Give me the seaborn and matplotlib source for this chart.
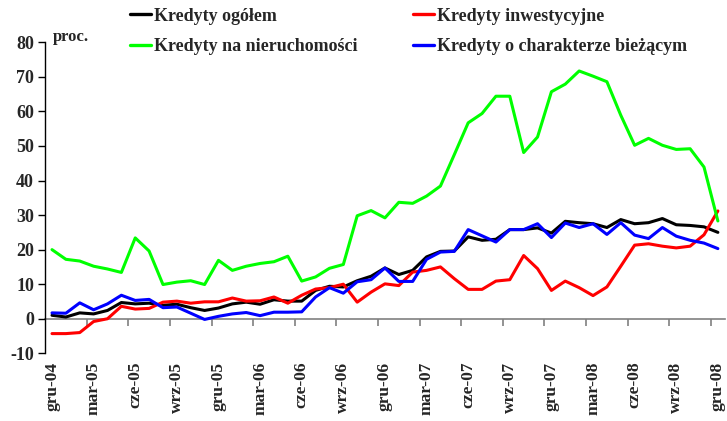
import numpy as np
import pandas as pd
import matplotlib
matplotlib.use("Agg")
import matplotlib.pyplot as plt
import seaborn as sns

# monthly data gru-04 .. gru-08, y/y change in %
ogolem = [1.0, 0.5, 1.7, 1.4, 2.4, 4.7, 4.3, 4.5, 3.9, 4.2, 3.2, 2.4, 3.1, 4.3, 4.8, 4.2,
          5.5, 5.1, 5.1, 8.2, 9.4, 9.2, 11.0, 12.3, 14.7, 12.8, 14.0, 17.9, 19.5, 19.6,
          23.7, 22.7, 23.0, 25.8, 25.8, 26.3, 24.8, 28.2, 27.8, 27.5, 26.4, 28.7, 27.5,
          27.8, 29.0, 27.2, 27.0, 26.6, 25.0]
inwestycyjne = [-4.3, -4.3, -4.0, -0.8, 0.0, 3.6, 2.8, 3.0, 4.8, 5.1, 4.5, 4.9, 4.9, 6.0,
                5.1, 5.2, 6.3, 4.5, 6.8, 8.6, 9.0, 10.0, 4.8, 7.7, 10.1, 9.6, 13.5, 14.0,
                15.0, 11.6, 8.5, 8.5, 10.9, 11.3, 18.3, 14.5, 8.2, 10.9, 9.0, 6.7, 9.2,
                15.2, 21.3, 21.7, 21.0, 20.5, 21.0, 24.3, 31.2]
nieruchomosci = [20.0, 17.2, 16.7, 15.2, 14.4, 13.4, 23.4, 19.6, 9.9, 10.6, 11.0, 9.9, 16.9,
                 14.0, 15.2, 16.0, 16.5, 18.1, 10.9, 12.1, 14.6, 15.7, 29.8, 31.3, 29.2,
                 33.7, 33.4, 35.5, 38.4, 47.5, 56.7, 59.4, 64.4, 64.4, 48.1, 52.6, 65.7,
                 67.9, 71.7, 70.2, 68.6, 58.9, 50.2, 52.2, 50.2, 49.0, 49.2, 43.9, 28.3]
biezace = [1.7, 1.6, 4.6, 2.6, 4.3, 6.8, 5.3, 5.6, 3.2, 3.4, 1.6, -0.2, 0.7, 1.4, 1.8, 0.9,
           1.9, 1.9, 2.0, 6.3, 9.0, 7.4, 10.7, 11.3, 14.7, 10.8, 10.8, 17.2, 19.3, 19.5,
           25.8, 24.0, 22.2, 25.8, 25.8, 27.5, 23.5, 27.7, 26.4, 27.5, 24.4, 27.8, 24.2,
           23.2, 26.4, 23.9, 22.7, 21.9, 20.3]

tick_labels = ["gru-04", "mar-05", "cze-05", "wrz-05", "gru-05", "mar-06", "cze-06",
               "wrz-06", "gru-06", "mar-07", "cze-07", "wrz-07", "gru-07", "mar-08",
               "cze-08", "wrz-08", "gru-08"]

series = {
    "Kredyty ogółem": ogolem,
    "Kredyty inwestycyjne": inwestycyjne,
    "Kredyty na nieruchomości": nieruchomosci,
    "Kredyty o charakterze bieżącym": biezace,
}
colors = {
    "Kredyty ogółem": "#000000",
    "Kredyty inwestycyjne": "#ff0000",
    "Kredyty na nieruchomości": "#00ff00",
    "Kredyty o charakterze bieżącym": "#0000ff",
}

n = len(ogolem)
df = pd.concat([pd.DataFrame({"m": np.arange(n), "v": v, "s": k}) for k, v in series.items()])

sns.set_style("white")
plt.rcParams["font.family"] = ["Liberation Serif", "DejaVu Serif"]
plt.rcParams["font.weight"] = "bold"
plt.rcParams["axes.unicode_minus"] = False

fig = plt.figure(figsize=(7.27, 4.21), dpi=100)
ax = fig.add_axes([0.062, 0.1608, 0.935, 0.7387])

sns.lineplot(data=df, x="m", y="v", hue="s", palette=colors, linewidth=2.2,
             ax=ax, legend=False)

ax.set_xlim(-0.5, n - 0.5)
ax.set_ylim(-10, 80)
ax.set_yticks(np.arange(-10, 81, 10))
ax.set_xlabel("")
ax.set_ylabel("")

for s in ["top", "right", "bottom"]:
    ax.spines[s].set_visible(False)
ax.spines["left"].set_color("black")
ax.spines["left"].set_linewidth(1.0)
ax.tick_params(axis="y", direction="out", length=5, width=1, color="black",
               labelsize=13, pad=3, left=True)

# labels at the bottom, no marks
ax.set_xticks(np.arange(0, n, 3))
ax.set_xticklabels(tick_labels, rotation=90, fontsize=12.5, fontweight="bold")
ax.tick_params(axis="x", length=0, pad=6)

# zero line with category-boundary ticks
zero = ax.secondary_xaxis(10 / 90)
zero.spines["bottom"].set_color("#808080")
zero.spines["bottom"].set_linewidth(1.2)
zero.set_xticks(np.arange(2.5, n - 1, 3))
zero.set_xticklabels([])
zero.tick_params(direction="out", length=5, width=1.2, color="#808080")

ax.text(0.012, 0.99, "proc.", transform=ax.transAxes, fontsize=12, fontweight="bold",
        ha="left", va="bottom")

handles = [plt.Line2D([], [], color=colors[k], lw=2.4) for k in series]
order = [0, 2, 1, 3]
fig.legend([handles[i] for i in order], [list(series)[i] for i in order],
           ncol=2, loc="upper left", bbox_to_anchor=(128 / 727, 0.986),
           frameon=False, handlelength=1.15, handletextpad=0.2,
           columnspacing=3.05, labelspacing=0.76, borderpad=0.1, borderaxespad=0,
           prop={"weight": "bold", "size": 13})

fig.savefig("out.png", dpi=100)
